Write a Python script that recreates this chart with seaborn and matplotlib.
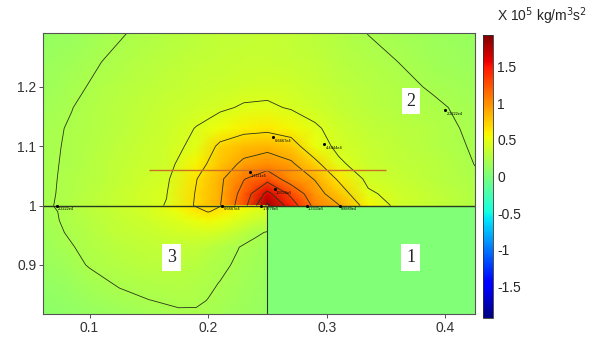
import matplotlib

matplotlib.use("Agg")
import matplotlib.pyplot as plt
import numpy as np
import seaborn as sns
from matplotlib.colors import Normalize
from matplotlib.ticker import FuncFormatter


# field above the interface (region 2), values in 1e5 kg/m^3s^2
X_UPPER = [0.061, 0.085, 0.11, 0.14, 0.165, 0.19, 0.21, 0.23, 0.25, 0.27, 0.29, 0.31, 0.335, 0.36, 0.39, 0.425]
Y_UPPER = [1.0, 1.02, 1.045, 1.07, 1.1, 1.13, 1.165, 1.2, 1.245, 1.29]
Z_UPPER = [
    [0.20, 0.26, 0.32, 0.39, 0.45, 0.69, 0.88, 1.25, 1.82, 1.45, 1.05, 0.90, 0.58, 0.40, 0.34, 0.26],
    [0.20, 0.25, 0.31, 0.38, 0.44, 0.68, 0.86, 1.20, 1.62, 1.28, 0.97, 0.78, 0.47, 0.39, 0.33, 0.25],
    [0.20, 0.245, 0.30, 0.37, 0.42, 0.66, 0.85, 1.10, 1.25, 1.00, 0.88, 0.64, 0.40, 0.35, 0.30, 0.235],
    [0.20, 0.24, 0.29, 0.36, 0.39, 0.58, 0.78, 0.93, 1.00, 0.92, 0.73, 0.47, 0.37, 0.33, 0.29, 0.22],
    [0.20, 0.235, 0.28, 0.34, 0.39, 0.48, 0.71, 0.80, 0.83, 0.76, 0.52, 0.41, 0.35, 0.31, 0.27, 0.21],
    [0.20, 0.23, 0.27, 0.32, 0.37, 0.45, 0.53, 0.60, 0.62, 0.57, 0.47, 0.38, 0.33, 0.30, 0.26, 0.20],
    [0.18, 0.22, 0.26, 0.31, 0.35, 0.39, 0.42, 0.46, 0.47, 0.43, 0.38, 0.34, 0.30, 0.27, 0.24, 0.19],
    [0.16, 0.20, 0.245, 0.29, 0.32, 0.35, 0.37, 0.39, 0.395, 0.38, 0.35, 0.31, 0.28, 0.25, 0.21, 0.17],
    [0.14, 0.175, 0.22, 0.26, 0.29, 0.32, 0.34, 0.35, 0.355, 0.345, 0.32, 0.28, 0.25, 0.22, 0.18, 0.15],
    [0.12, 0.15, 0.19, 0.235, 0.27, 0.30, 0.32, 0.33, 0.335, 0.325, 0.30, 0.265, 0.22, 0.19, 0.16, 0.13],
]

# field below the interface, left of the wall (region 3)
X_LOWER = [0.061, 0.08, 0.1, 0.125, 0.15, 0.175, 0.19, 0.2, 0.21, 0.225, 0.24, 0.25]
Y_LOWER = [0.817, 0.84, 0.87, 0.9, 0.93, 0.955, 0.975, 0.99, 1.0]
Z_LOWER = [
    [0.08, 0.10, 0.13, 0.165, 0.195, 0.21, 0.212, 0.205, 0.19, 0.165, 0.14, 0.13],
    [0.10, 0.12, 0.155, 0.19, 0.22, 0.235, 0.232, 0.22, 0.20, 0.175, 0.15, 0.14],
    [0.12, 0.15, 0.185, 0.235, 0.255, 0.26, 0.25, 0.235, 0.22, 0.19, 0.165, 0.15],
    [0.14, 0.18, 0.23, 0.27, 0.29, 0.29, 0.275, 0.255, 0.24, 0.21, 0.175, 0.16],
    [0.16, 0.205, 0.25, 0.29, 0.32, 0.33, 0.32, 0.30, 0.27, 0.225, 0.19, 0.17],
    [0.18, 0.225, 0.27, 0.32, 0.36, 0.40, 0.42, 0.42, 0.40, 0.33, 0.24, 0.215],
    [0.19, 0.235, 0.28, 0.34, 0.39, 0.46, 0.52, 0.55, 0.52, 0.45, 0.37, 0.33],
    [0.19, 0.24, 0.29, 0.35, 0.41, 0.52, 0.62, 0.675, 0.63, 0.53, 0.45, 0.40],
    [0.20, 0.25, 0.29, 0.35, 0.41, 0.60, 0.68, 0.72, 0.675, 0.60, 0.52, 0.46],
]

# region 1 is uniform
REGION1_VALUE = 0.02

CONTOUR_LEVELS = [0.222, 0.444, 0.667, 0.889, 1.111, 1.333, 1.556, 1.778]
LOWER_CONTOUR_LEVELS = [0.222, 0.667]

INTERFACE_Y = 1.0
WALL_X = 0.25
PROBE_Y = 1.06
PROBE_X = [0.15, 0.35]

REGION_NAMES = ["1", "2", "3"]
REGION_X = [0.371, 0.371, 0.169]
REGION_Y = [0.913, 1.176, 0.913]

LABEL_TEXT = ["2.2222e4", "6.6667e4", "1.7778e5", "1.3333e5", "8.8889e4",
              "6.6667e4", "4.4444e4", "1.1111e5", "1.5556e5", "2.2222e4"]
LABEL_X = [0.0725, 0.212, 0.245, 0.283, 0.311, 0.255, 0.298, 0.235, 0.256, 0.400]
LABEL_Y = [1.0, 1.0, 1.0, 1.0, 1.0, 1.115, 1.104, 1.056, 1.028, 1.161]

X_TICKS = [0.1, 0.2, 0.3, 0.4]
Y_TICKS = [0.9, 1.0, 1.1, 1.2]
CBAR_TICKS = [-1.5, -1, -0.5, 0, 0.5, 1, 1.5]
CBAR_RANGE = [-1.93, 1.93]


def fmt(value, pos=None):
    return f"{value:g}"


sns.set_style("ticks")
plt.rcParams["font.family"] = ["Liberation Sans", "DejaVu Sans"]
plt.rcParams["axes.unicode_minus"] = False

cmap = matplotlib.colormaps["jet"]
norm = Normalize(vmin=CBAR_RANGE[0], vmax=CBAR_RANGE[1])

fig = plt.figure(figsize=(5.97, 3.42), dpi=100)
ax = fig.add_axes([0.0725, 0.081, 0.723, 0.8216])

xu, yu = np.meshgrid(X_UPPER, Y_UPPER)
zu = np.array(Z_UPPER)
xl, yl = np.meshgrid(X_LOWER, Y_LOWER)
zl = np.array(Z_LOWER)

ax.pcolormesh(xu, yu, zu, shading="gouraud", cmap=cmap, norm=norm)
ax.pcolormesh(xl, yl, zl, shading="gouraud", cmap=cmap, norm=norm)
x1, y1 = np.meshgrid([WALL_X, X_UPPER[-1]], [Y_LOWER[0], INTERFACE_Y])
ax.pcolormesh(x1, y1, np.full((1, 1), REGION1_VALUE), shading="flat", cmap=cmap, norm=norm)

ax.contour(xu, yu, zu, levels=CONTOUR_LEVELS, colors="#2a3418", linewidths=0.6)
ax.contour(xl, yl, zl, levels=LOWER_CONTOUR_LEVELS, colors="#2a3418", linewidths=0.6)

ax.axhline(INTERFACE_Y, color="#2a3a20", lw=1.0)
ax.vlines(WALL_X, Y_LOWER[0], INTERFACE_Y, color="#2a3a20", lw=0.8)
ax.hlines(PROBE_Y, PROBE_X[0], PROBE_X[1], color="#cc7028", lw=1.0)

for x, y, s in zip(LABEL_X, LABEL_Y, LABEL_TEXT):
    ax.scatter([x], [y], s=1.5, color="black", zorder=4)
    ax.text(x + 0.001, y - 0.003, s, fontsize=2.8, ha="left", va="top", color="black")

for x, y, s in zip(REGION_X, REGION_Y, REGION_NAMES):
    ax.text(x, y, s, family=["Liberation Serif", "DejaVu Serif"], fontsize=13,
            ha="center", va="center",
            bbox=dict(facecolor="white", edgecolor="none", pad=3.5))

ax.set_xlim(X_UPPER[0], X_UPPER[-1])
ax.set_ylim(Y_LOWER[0], Y_UPPER[-1])
ax.set_xticks(X_TICKS)
ax.set_yticks(Y_TICKS)
ax.xaxis.set_major_formatter(FuncFormatter(fmt))
ax.yaxis.set_major_formatter(FuncFormatter(fmt))
ax.tick_params(direction="out", length=3, width=0.6, colors="#333333", labelsize=10, pad=2)
for spine in ax.spines.values():
    spine.set_color("#555555")
    spine.set_linewidth(0.8)

cax = fig.add_axes([0.8085, 0.0702, 0.0178, 0.8275])
sm = plt.cm.ScalarMappable(norm=norm, cmap=cmap)
cb = fig.colorbar(sm, cax=cax)
cb.set_ticks(CBAR_TICKS)
cb.ax.yaxis.set_major_formatter(FuncFormatter(fmt))
cax.tick_params(direction="in", length=2, width=0.5, labelsize=10, pad=3)
cb.outline.set_linewidth(0.6)
cb.outline.set_edgecolor("#333333")

fig.text(0.832, 0.953, r"X 10$^5$ kg/m$^3$s$^2$", fontsize=10, ha="left", va="center")

fig.savefig("out.png", dpi=100)
plt.close(fig)
